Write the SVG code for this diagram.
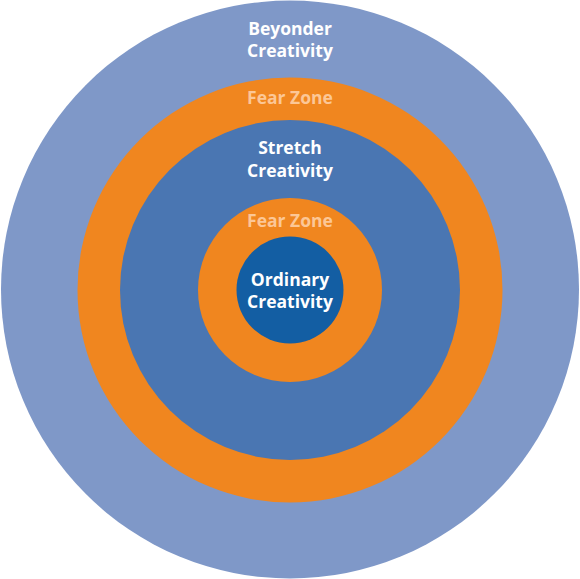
<svg xmlns="http://www.w3.org/2000/svg" width="580" height="579" viewBox="0 0 580 579">
<style>
.t{font-family:"Open Sans","Liberation Sans",sans-serif;font-weight:700;font-size:17.5px;text-anchor:middle;fill:#ffffff}
.f{fill:#fcc796}
</style>
<rect width="580" height="579" fill="#ffffff"/>
<g id="beyonder">
<circle cx="290" cy="289.5" r="289" fill="#7f98c8"/>
<text class="t" x="290" y="35">Beyonder</text>
<text class="t" x="290" y="57">Creativity</text>
</g>
<g id="fear-zone-outer">
<circle cx="290" cy="290" r="212.5" fill="#f0861f"/>
<text class="t f" x="290" y="104">Fear Zone</text>
</g>
<g id="stretch">
<circle cx="290" cy="290" r="170" fill="#4a76b2"/>
<text class="t" x="290" y="154">Stretch</text>
<text class="t" x="290" y="177">Creativity</text>
</g>
<g id="fear-zone-inner">
<circle cx="290" cy="290" r="92" fill="#f0861f"/>
<text class="t f" x="290" y="227">Fear Zone</text>
</g>
<g id="ordinary">
<circle cx="290" cy="290" r="53.5" fill="#135ea3"/>
<text class="t" x="290" y="286">Ordinary</text>
<text class="t" x="290" y="308">Creativity</text>
</g>
<g id="connectors"/>
</svg>
